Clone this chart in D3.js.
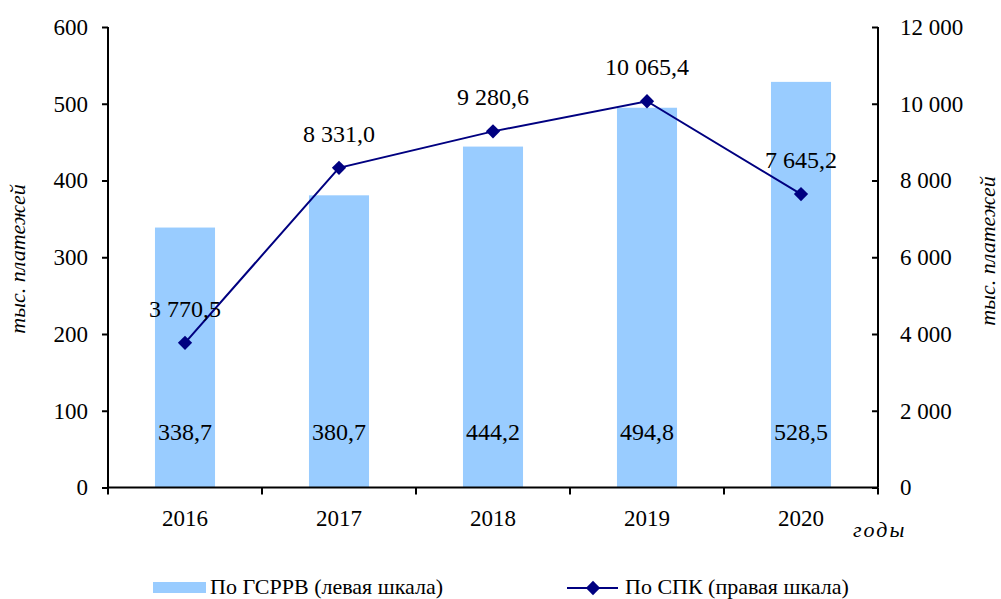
<!DOCTYPE html>
<html>
<head>
<meta charset="utf-8">
<script src="https://cdn.jsdelivr.net/npm/d3@7"></script>
<style>
  body { margin: 0; background: #fff; }
  svg text { font-family: "Times New Roman", "Liberation Serif", Tinos, "DejaVu Serif", serif !important; }
</style>
</head>
<body>
<svg id="chart" width="1001" height="599"></svg>
<script>
// data
var years = ["2016", "2017", "2018", "2019", "2020"];
var gsrrv = [338.7, 380.7, 444.2, 494.8, 528.5];       // bars, left scale
var spk = [3770.5, 8331.0, 9280.6, 10065.4, 7645.2];   // line, right scale
var leftTicks = [0, 100, 200, 300, 400, 500, 600];
var rightTicks = [0, 2000, 4000, 6000, 8000, 10000, 12000];

var svg = d3.select("#chart");

// plot area (no "top" name - clashes with window.top)
var plotL = 108, plotR = 878, plotT = 27, plotB = 487.5;

var x = d3.scaleBand().domain(years).range([plotL, plotR]).padding(0);
var yL = d3.scaleLinear().domain([0, 600]).range([plotB, plotT]);
var yR = d3.scaleLinear().domain([0, 12000]).range([plotB, plotT]);

// russian number format: space thousands, comma decimal
var ru = d3.formatLocale({decimal: ",", thousands: "\u00a0", grouping: [3], currency: ["", ""]});
var fmtInt = ru.format(",.0f");
var fmt1 = ru.format(",.1f");

var barW = x.bandwidth() * 0.39;
function cx(i) { return x(years[i]) + x.bandwidth() / 2; }

// bars
svg.selectAll(".bar")
  .data(gsrrv)
  .enter().append("rect")
  .attr("class", "bar")
  .attr("x", function(d, i) { return cx(i) - barW / 2; })
  .attr("y", function(d) { return yL(d); })
  .attr("width", barW)
  .attr("height", function(d) { return plotB - yL(d); })
  .attr("fill", "#99ccff");

// bar labels sit low inside the bars
svg.selectAll(".barlab")
  .data(gsrrv)
  .enter().append("text")
  .attr("x", function(d, i) { return cx(i); })
  .attr("y", yL(0) - 48)
  .attr("text-anchor", "middle")
  .style("font-size", "24px")
  .text(function(d) { return fmt1(d); });

// axes
var axL = svg.append("g")
  .attr("transform", "translate(" + plotL + ",0)")
  .call(d3.axisLeft(yL).tickValues(leftTicks).tickSize(6).tickPadding(14).tickFormat(d3.format("d")));
var axR = svg.append("g")
  .attr("transform", "translate(" + plotR + ",0)")
  .call(d3.axisRight(yR).tickValues(rightTicks).tickSize(-6).tickPadding(22).tickFormat(fmtInt));
var axX = svg.append("g")
  .attr("transform", "translate(0," + plotB + ")")
  .call(d3.axisBottom(x).tickSize(0).tickPadding(22));

// x ticks between categories
svg.selectAll(".xtick")
  .data(years.concat(["end"]))
  .enter().append("line")
  .attr("x1", function(d, i) { return plotL + i * x.bandwidth(); })
  .attr("x2", function(d, i) { return plotL + i * x.bandwidth(); })
  .attr("y1", plotB)
  .attr("y2", plotB + 7)
  .attr("stroke", "#000")
  .attr("stroke-width", 2);

[axL, axR, axX].forEach(function(a) {
  a.attr("font-family", null);
  a.selectAll("path").attr("stroke", "#000").attr("stroke-width", 2);
  a.selectAll("line").attr("stroke", "#000").attr("stroke-width", 2);
  a.selectAll("text").style("font-size", "23px").attr("fill", "#000");
});
axL.select(".domain").attr("d", "M0," + plotT + "V" + plotB);
axR.select(".domain").attr("d", "M0," + plotT + "V" + plotB);
axX.select(".domain").attr("d", "M" + plotL + ",0H" + plotR);

// line
var line = d3.line()
  .x(function(d, i) { return cx(i); })
  .y(function(d) { return yR(d); });

svg.append("path")
  .datum(spk)
  .attr("d", line)
  .attr("fill", "none")
  .attr("stroke", "#000080")
  .attr("stroke-width", 2);

var diamond = d3.symbol().type(d3.symbolDiamond2).size(130);
svg.selectAll(".pt")
  .data(spk)
  .enter().append("path")
  .attr("d", diamond)
  .attr("transform", function(d, i) { return "translate(" + cx(i) + "," + yR(d) + ")"; })
  .attr("fill", "#000080");

svg.selectAll(".ptlab")
  .data(spk)
  .enter().append("text")
  .attr("x", function(d, i) { return cx(i); })
  .attr("y", function(d) { return yR(d) - 26; })
  .attr("text-anchor", "middle")
  .style("font-size", "24px")
  .text(function(d) { return fmt1(d); });

// axis titles
svg.append("text")
  .attr("transform", "translate(25,259) rotate(-90)")
  .attr("text-anchor", "middle")
  .style("font-size", "22px")
  .style("font-style", "italic")
  .text("тыс. платежей");
svg.append("text")
  .attr("transform", "translate(995,251) rotate(-90)")
  .attr("text-anchor", "middle")
  .style("font-size", "22px")
  .style("font-style", "italic")
  .text("тыс. платежей");
svg.append("text")
  .attr("x", 853)
  .attr("y", 537)
  .style("font-size", "22px")
  .style("font-style", "italic")
  .style("letter-spacing", "2px")
  .text("годы");

// legend
svg.append("rect")
  .attr("x", 153).attr("y", 582).attr("width", 53).attr("height", 11)
  .attr("fill", "#99ccff");
svg.append("text")
  .attr("x", 210).attr("y", 594)
  .style("font-size", "22px")
  .text("По ГСРРВ (левая шкала)");
svg.append("line")
  .attr("x1", 567).attr("x2", 618).attr("y1", 588).attr("y2", 588)
  .attr("stroke", "#000080").attr("stroke-width", 2);
svg.append("path")
  .attr("d", diamond)
  .attr("transform", "translate(593,588)")
  .attr("fill", "#000080");
svg.append("text")
  .attr("x", 625).attr("y", 594)
  .style("font-size", "22px")
  .text("По СПК (правая шкала)");
</script>
</body>
</html>
